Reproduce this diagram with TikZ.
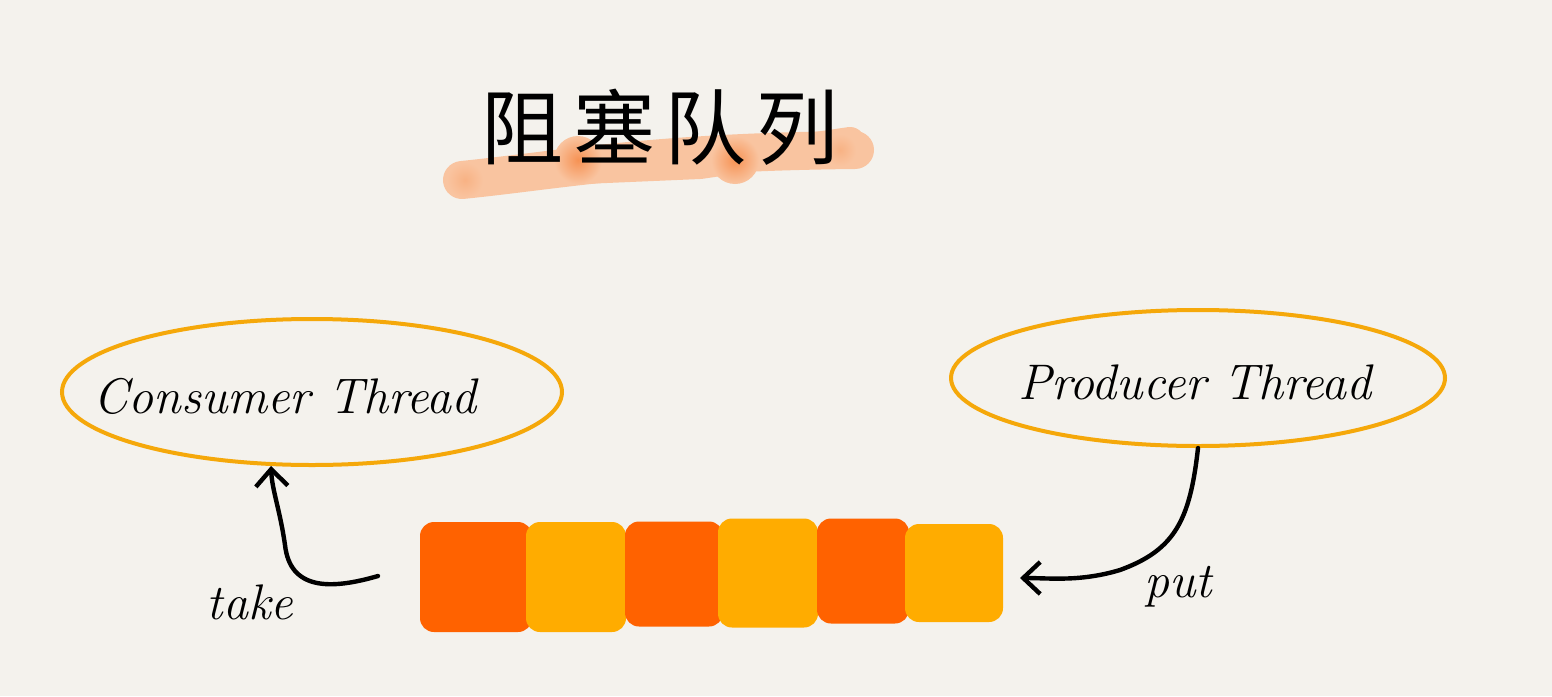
\documentclass[tikz,border=0pt]{standalone}
\usepackage{fontspec}
\newfontfamily\cjk{Noto Sans CJK SC}[LetterSpace=12]
\usetikzlibrary{shapes.geometric,arrows.meta}
\definecolor{bg}{RGB}{244,242,237}
\definecolor{ring}{RGB}{245,168,10}
\definecolor{redblk}{RGB}{255,98,0}
\definecolor{yelblk}{RGB}{255,172,0}
\definecolor{brushlight}{RGB}{249,196,160}
\definecolor{brushmid}{RGB}{248,178,132}
\definecolor{brushdark}{RGB}{246,146,84}
\tikzset{
  threadring/.style={ellipse, draw=ring, line width=4pt, inner sep=0pt},
  hand/.style={font=\fontsize{50}{56}\selectfont\itshape, text=black, inner sep=0pt},
  qblock/.style={rectangle, rounded corners=14pt, inner sep=0pt},
  flow/.style={line width=4.4pt, line cap=round, line join=round, -{Straight Barb[length=17pt,width=32pt,line width=4.4pt]}},
  brushstroke/.style={line cap=round, line join=round},
  spot/.style={inner color=brushdark, outer color=brushlight},
}
\begin{document}
\begin{tikzpicture}[x=1pt,y=-1pt]
\useasboundingbox (0,0) rectangle (1552,696);
\fill[bg] (0,0) rectangle (1552,696);
% brush stroke under title
\draw[brushstroke, brushlight, line width=38pt] (462,180) .. controls (560,170) and (650,152) .. (855,150);
\draw[brushstroke, brushlight, line width=30pt] (560,170) -- (700,164) -- (850,142);
\shade[spot] (578,160) circle (24pt);
\shade[spot] (735,160) circle (24pt);
\shade[inner color=brushmid, outer color=brushlight] (465,180) circle (18pt);
\shade[inner color=brushmid, outer color=brushlight] (840,150) circle (16pt);
\node[font=\cjk\fontsize{82}{90}\selectfont, inner sep=0pt] (title) at (660,127) {阻塞队列};
% threads
\node[threadring, minimum width=500pt, minimum height=146pt] (cons) at (312,392) {};
\node[hand] (conslabel) at (285,396) {Consumer Thread};
\node[threadring, minimum width=494pt, minimum height=136pt] (prod) at (1198,378) {};
\node[hand] (prodlabel) at (1195,382) {Producer Thread};
% queue
\node[qblock, fill=redblk, minimum width=112pt, minimum height=110pt] (q1) at (476,577) {};
\node[qblock, fill=yelblk, minimum width=100pt, minimum height=110pt] (q2) at (576,577) {};
\node[qblock, fill=redblk, minimum width=98pt, minimum height=105pt] (q3) at (674,574) {};
\node[qblock, fill=yelblk, minimum width=100pt, minimum height=109pt] (q4) at (768,573) {};
\node[qblock, fill=redblk, minimum width=92pt, minimum height=105pt] (q5) at (863,571) {};
\node[qblock, fill=yelblk, minimum width=98pt, minimum height=98pt] (q6) at (954,573) {};
% take
\coordinate (takestart) at (378,576);
\draw[flow] (takestart) .. controls (330,590) and (290,590) .. (285,545) .. controls (280,510) and (272,490) .. (cons.241);
\node[hand] (take) at (250,602) {take};
% put
\coordinate (putend) at (1020,578);
\draw[flow] (prod.south) .. controls (1190,520) and (1175,550) .. (1120,570) .. controls (1080,582) and (1050,578) .. (putend);
\node[hand] (put) at (1178,587) {put};
\end{tikzpicture}
\end{document}
